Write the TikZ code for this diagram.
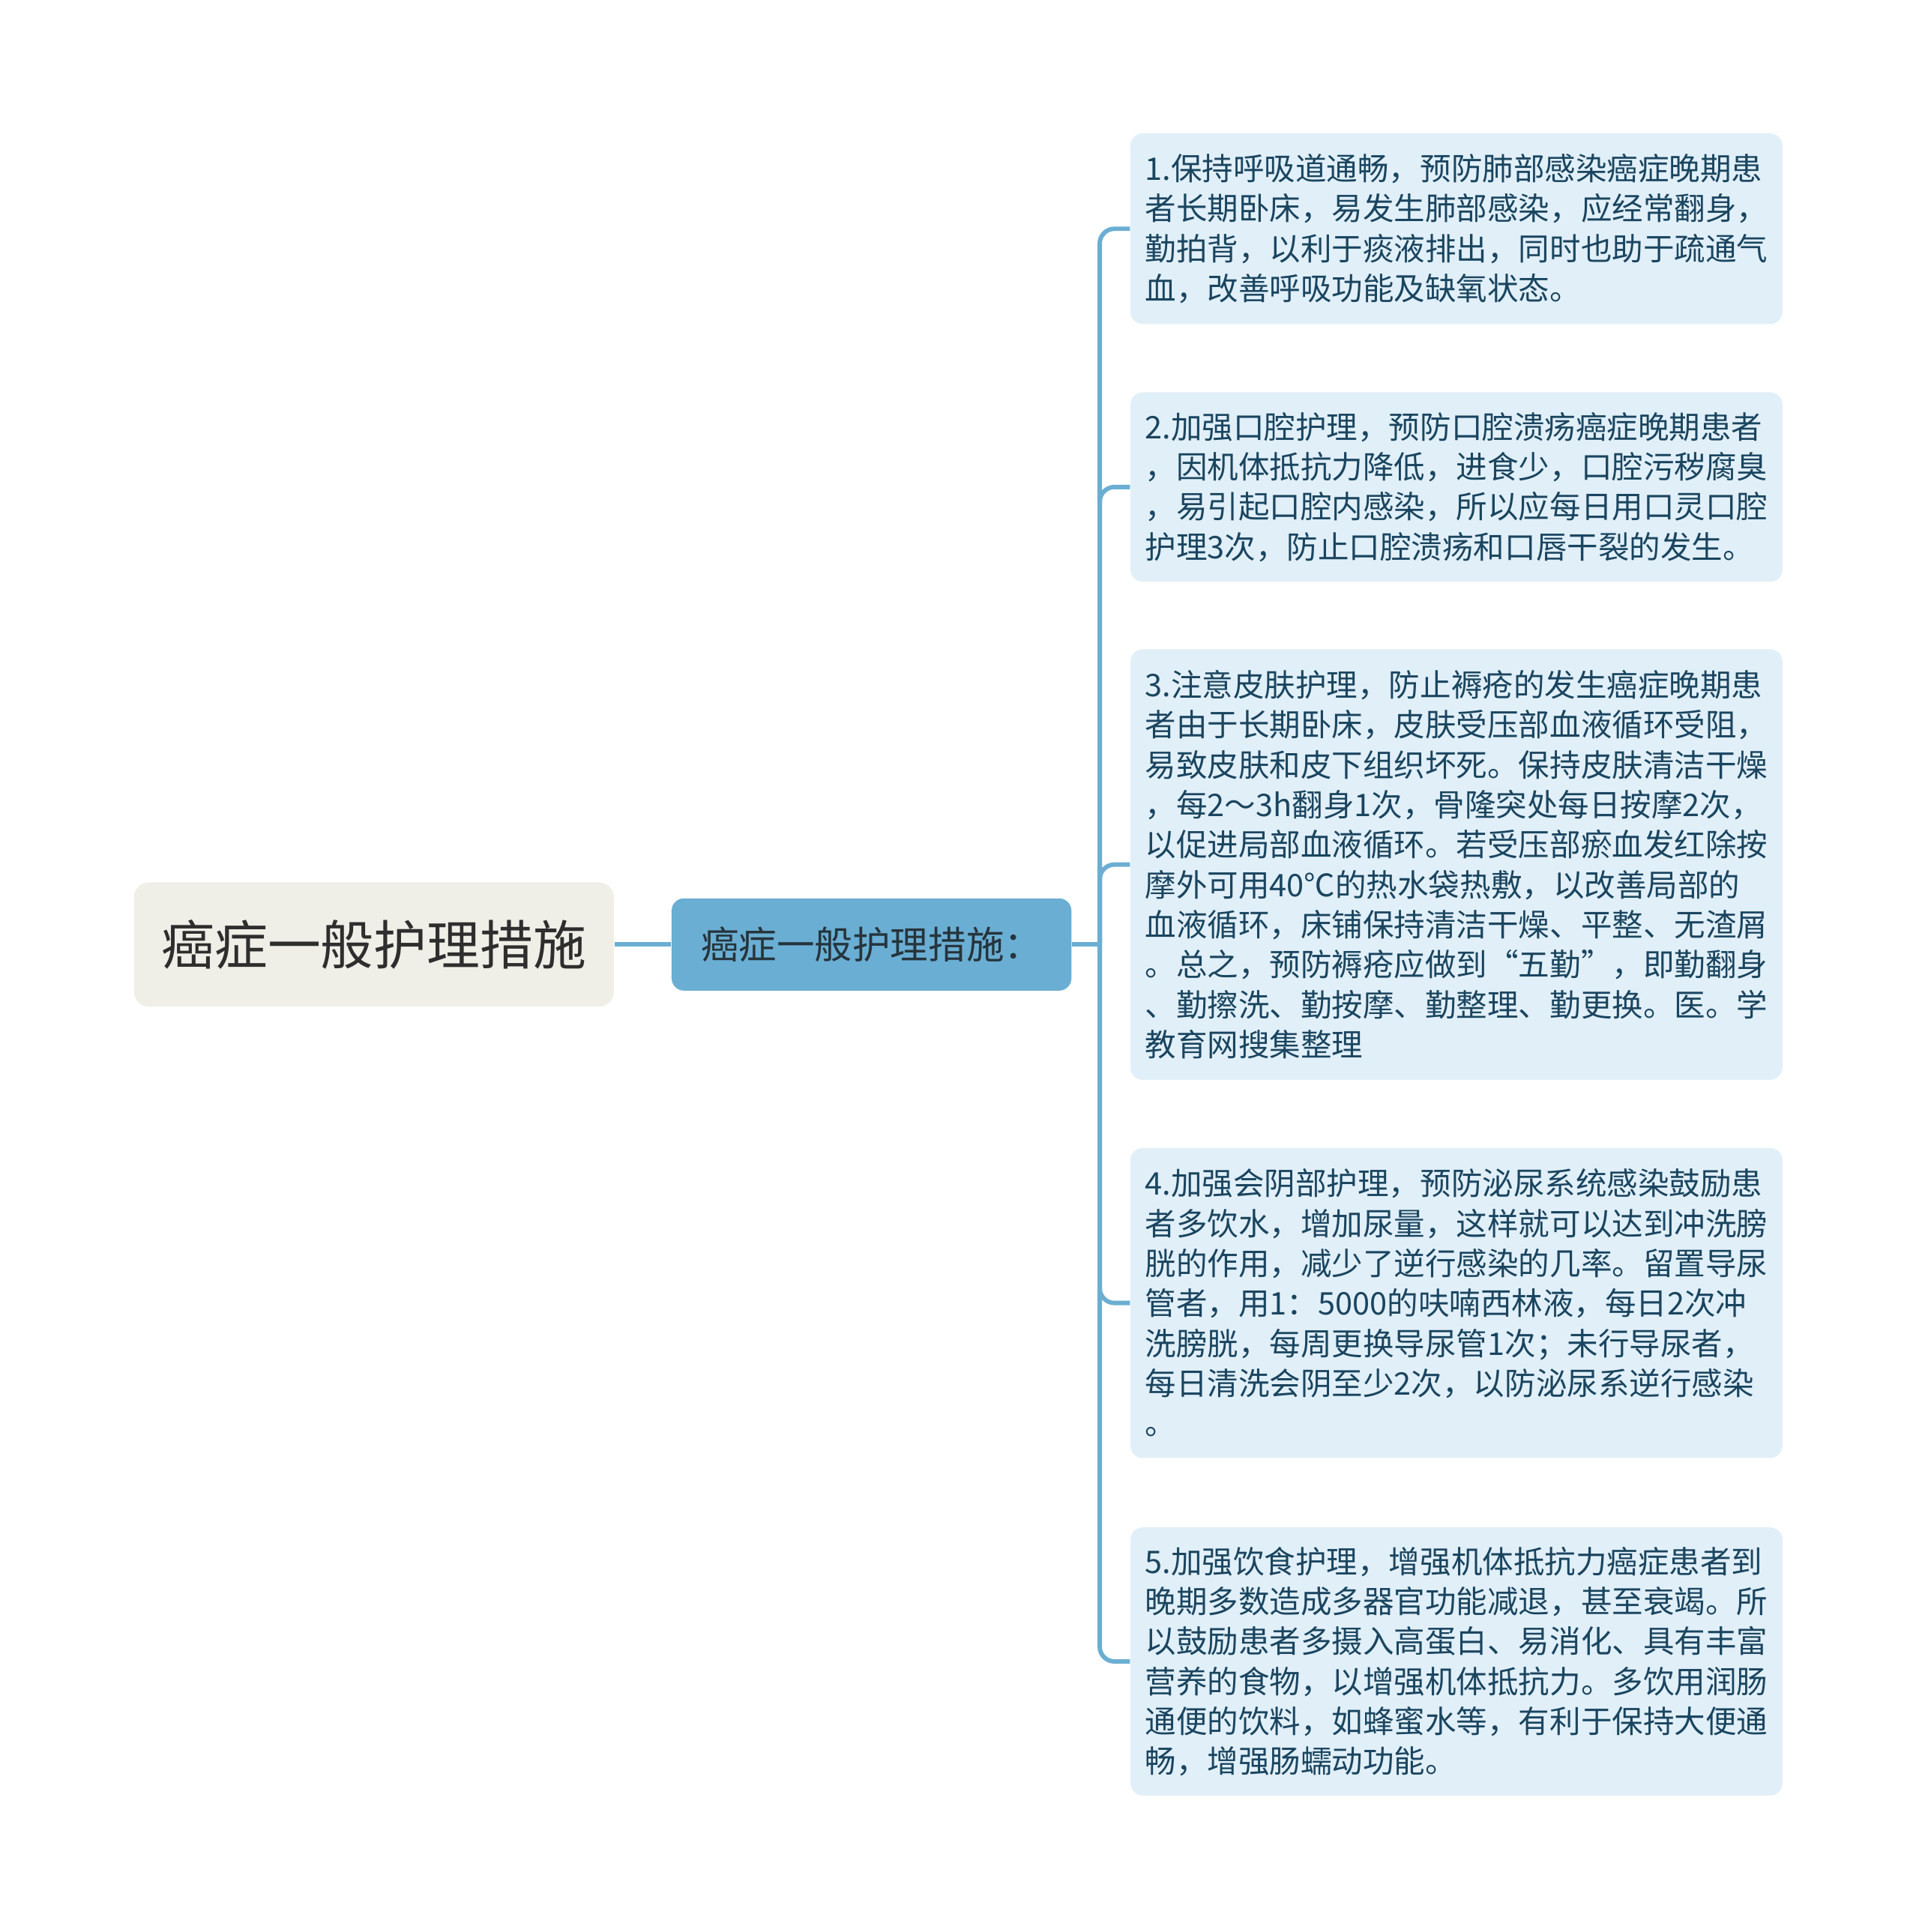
\documentclass[tikz,border=0pt]{standalone}
\usepackage{fontspec}
\newfontfamily\cjk{Noto Sans CJK SC}
\definecolor{linec}{HTML}{6BAED2}
\definecolor{rootfill}{HTML}{EFEFE7}
\definecolor{roottext}{HTML}{2E2E2E}
\definecolor{midfill}{HTML}{6AAED3}
\definecolor{midtext}{HTML}{26343C}
\definecolor{leaffill}{HTML}{E1EFF8}
\definecolor{leaftext}{HTML}{1A4560}
\tikzset{
  rootbox/.style={fill=rootfill, text=roottext, rounded corners=6pt, inner sep=0pt,
    minimum width=195pt, minimum height=50.5pt, font=\cjk\fontsize{21.6pt}{26pt}\selectfont},
  midbox/.style={fill=midfill, text=midtext, rounded corners=5pt, inner sep=0pt,
    minimum width=162.5pt, minimum height=37.5pt, font=\cjk\fontsize{15.4pt}{19pt}\selectfont},
  leafbox/.style={fill=leaffill, text=leaftext, rounded corners=5pt, inner xsep=6pt, inner ysep=0pt,
    minimum width=265pt, text width=253pt, align=left,
    font=\cjk\fontsize{12.65pt}{16.25pt}\selectfont},
  conn/.style={draw=linec, line width=1.8pt},
  branch/.style={conn, rounded corners=6pt}
}
\begin{document}
\begin{tikzpicture}[x=0.5pt,y=-0.5pt]
\useasboundingbox (0,0) rectangle (1560,1571);
\fill[white] (0,0) rectangle (1560,1571);

\node[rootbox] (root) at (304,768) {癌症一般护理措施};
\node[midbox] (mid) at (708.5,768) {癌症一般护理措施：};
\coordinate (j) at (894,768);

\node[leafbox, minimum height=77.5pt] (l1) at (1184,186) {1.保持呼吸道通畅，预防肺部感染癌症晚期患\\者长期卧床，易发生肺部感染，应经常翻身，\\勤拍背，以利于痰液排出，同时也助于疏通气\\血，改善呼吸功能及缺氧状态。};

\node[leafbox, minimum height=77pt] (l2) at (1184,396) {2.加强口腔护理，预防口腔溃疡癌症晚期患者\\，因机体抵抗力降低，进食少，口腔污秽腐臭\\，易引起口腔内感染，所以应每日用口灵口腔\\护理3次，防止口腔溃疡和口唇干裂的发生。};

\node[leafbox, minimum height=175pt] (l3) at (1184,703) {3.注意皮肤护理，防止褥疮的发生癌症晚期患\\者由于长期卧床，皮肤受压部血液循环受阻，\\易致皮肤和皮下组织坏死。保持皮肤清洁干燥\\，每2～3h翻身1次，骨隆突处每日按摩2次，\\以促进局部血液循环。若受压部瘀血发红除按\\摩外可用40℃的热水袋热敷，以改善局部的\\血液循环，床铺保持清洁干燥、平整、无渣屑\\。总之，预防褥疮应做到“五勤”，即勤翻身\\、勤擦洗、勤按摩、勤整理、勤更换。医。学\\教育网搜集整理};

\node[leafbox, minimum height=126pt] (l4) at (1184,1059.5) {4.加强会阴部护理，预防泌尿系统感染鼓励患\\者多饮水，增加尿量，这样就可以达到冲洗膀\\胱的作用，减少了逆行感染的几率。留置导尿\\管者，用1：5000的呋喃西林液，每日2次冲\\洗膀胱，每周更换导尿管1次；未行导尿者，\\每日清洗会阴至少2次，以防泌尿系逆行感染\\。};

\node[leafbox, minimum height=109pt] (l5) at (1184,1351) {5.加强饮食护理，增强机体抵抗力癌症患者到\\晚期多数造成多器官功能减退，甚至衰竭。所\\以鼓励患者多摄入高蛋白、易消化、具有丰富\\营养的食物，以增强机体抵抗力。多饮用润肠\\通便的饮料，如蜂蜜水等，有利于保持大便通\\畅，增强肠蠕动功能。};

\draw[conn] (root.east) -- (mid.west);
\draw[conn] (mid.east) -- (j);
\foreach \n in {l1,l2,l3,l4,l5}{
  \draw[branch] (j) |- (\n.west);
}
\end{tikzpicture}
\end{document}
